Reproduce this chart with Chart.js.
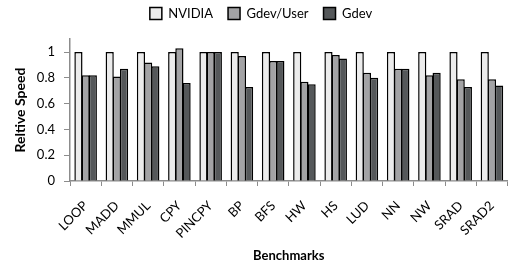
<!DOCTYPE html>
<html><head><meta charset="utf-8">
<script src="https://cdn.jsdelivr.net/npm/chart.js@4"></script>
<style>html,body{margin:0;padding:0;background:#fff}#wrap{width:515px;height:269px}</style>
</head><body><div id="wrap"><canvas id="c"></canvas></div>
<script>
const categories = ["LOOP","MADD","MMUL","CPY","PINCPY","BP","BFS","HW","HS","LUD","NN","NW","SRAD","SRAD2"];
const nvidia   = [1,1,1,1,1,1,1,1,1,1,1,1,1,1];
const gdevUser = [0.82,0.81,0.92,1.03,1.0,0.97,0.93,0.77,0.977,0.84,0.87,0.82,0.79,0.79];
const gdev     = [0.82,0.87,0.89,0.76,1.0,0.73,0.93,0.75,0.95,0.80,0.87,0.84,0.73,0.74];
const yTicks = [0,0.2,0.4,0.6,0.8,1];
const FONT = "Lato, 'Open Sans', sans-serif";
Chart.defaults.font.family = FONT;
Chart.defaults.color = '#000';
new Chart(document.getElementById('c'), {
  type: 'bar',
  data: {
    labels: categories,
    datasets: [
      {label:'NVIDIA', data:nvidia, backgroundColor:'#ececec', borderColor:'#000', borderWidth:1.5},
      {label:'Gdev/User', data:gdevUser, backgroundColor:'#a3a3a5', borderColor:'#000', borderWidth:1.5},
      {label:'Gdev', data:gdev, backgroundColor:'#55585a', borderColor:'#000', borderWidth:1.5}
    ]
  },
  options: {
    responsive:true, maintainAspectRatio:false, animation:false,
    layout:{padding:{right:1, top:-8, left:8}},
    datasets:{bar:{barPercentage:1.14, categoryPercentage:0.69}},
    plugins:{
      tooltip:{enabled:false},
      legend:{position:'top', labels:{boxWidth:12, boxHeight:12, padding:15, font:{size:13}, color:'#000'}},
      subtitle:{display:true, text:'', weight:500, font:{size:1}, padding:{top:0, bottom:8}}
    },
    scales:{
      x:{
        offset:true,
        grid:{offset:true, display:true, drawOnChartArea:false, tickLength:5, color:'#8c8c8c'},
        border:{color:'#8c8c8c', width:1.5},
        ticks:{minRotation:45, maxRotation:45, autoSkip:false, font:{size:13}, color:'#000', padding:12},
        title:{display:true, text:'Benchmarks', font:{size:13, weight:'bold'}, color:'#000', padding:{top:4, bottom:5}},
        afterFit(s){ s.height = 88; }
      },
      y:{
        min:0, max:1.1,
        afterBuildTicks(s){ s.ticks = yTicks.map(v=>({value:v})); },
        grid:{display:true, drawOnChartArea:false, tickLength:6, color:'#8c8c8c'},
        border:{color:'#8c8c8c', width:1.5},
        ticks:{font:{size:13}, color:'#000', padding:9, callback:v=>String(v)},
        title:{display:true, text:'Reltive Speed', font:{size:14, weight:'bold'}, color:'#000', padding:{top:4, bottom:2}},
        afterFit(s){ s.width = 62; }
      }
    }
  }
});
</script></body></html>
